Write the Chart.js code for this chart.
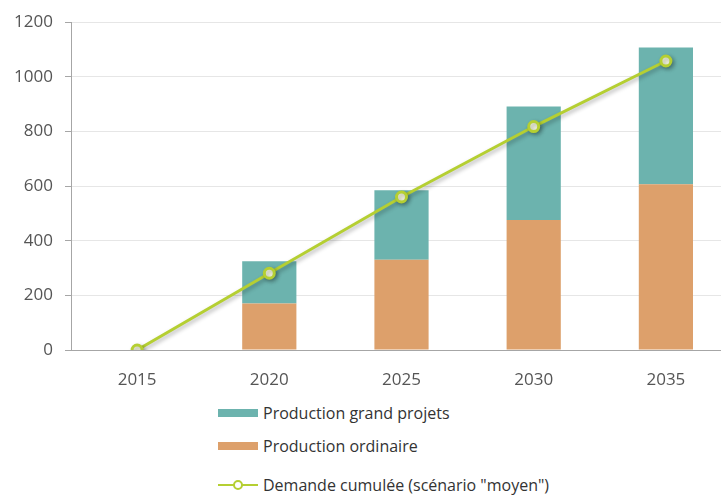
<!DOCTYPE html>
<html>
<head>
<meta charset="utf-8">
<script src="https://cdn.jsdelivr.net/npm/chart.js@4"></script>
<style>
  html, body { margin: 0; padding: 0; background: #fff; overflow: hidden; }
  #wrap { position: relative; width: 721px; height: 497px; overflow: hidden; font-family: "Open Sans", sans-serif; }
  #chart-box { position: absolute; left: 0; top: 0; width: 740px; height: 400px; }
  .legend-row { position: absolute; left: 218px; height: 20px; display: flex; align-items: center; font-size: 16px; color: #333; }
  .swatch { width: 40px; height: 8px; margin-right: 5px; }
  .line-swatch { position: relative; width: 40px; height: 20px; margin-right: 5px; }
  .line-swatch .ln { position: absolute; left: 0; right: 0; top: 9px; height: 2px; background: #b5cf32; }
  .line-swatch .dot { position: absolute; left: 15px; top: 5px; width: 6px; height: 6px; border: 2px solid #b5cf32; border-radius: 50%; background: #fff; }
</style>
</head>
<body>
<div id="wrap">
  <div id="chart-box"><canvas id="chart"></canvas></div>
  <div class="legend-row" style="top:403px"><div class="swatch" style="background:#6cb3ae"></div>Production grand projets</div>
  <div class="legend-row" style="top:436px"><div class="swatch" style="background:#dda06b"></div>Production ordinaire</div>
  <div class="legend-row" style="top:475px"><div class="line-swatch"><div class="ln"></div><div class="dot"></div></div>Demande cumulée (scénario "moyen")</div>
</div>
<script>
// Data
const years = ['2015', '2020', '2025', '2030', '2035'];
const productionOrdinaire = [0, 170, 330, 476, 607];
const productionGrandProjets = [0, 155, 255, 415, 500];
const demandeCumulee = [0, 281, 560, 818, 1058];
const yTicks = [0, 200, 400, 600, 800, 1000, 1200];

// Soft shadow under the demand line
const lineShadow = {
    id: 'lineShadow',
    beforeDatasetDraw(chart, args) {
        if (args.meta.type !== 'line') return;
        const ctx = chart.ctx;
        ctx.save();
        ctx.shadowColor = 'rgba(0, 0, 0, 0.3)';
        ctx.shadowBlur = 4;
        ctx.shadowOffsetX = 2;
        ctx.shadowOffsetY = 2;
    },
    afterDatasetDraw(chart, args) {
        if (args.meta.type !== 'line') return;
        chart.ctx.restore();
    }
};

const ctx = document.getElementById('chart').getContext('2d');
new Chart(ctx, {
    data: {
        labels: years,
        datasets: [
            {
                type: 'line',
                label: 'Demande cumulée (scénario "moyen")',
                data: demandeCumulee,
                stack: 'demande',
                borderColor: '#b5cf32',
                borderWidth: 3,
                pointRadius: 5,
                pointBorderWidth: 3,
                pointBackgroundColor: '#f8fbe4',
                pointBorderColor: '#b5cf32',
                tension: 0,
                order: 1
            },
            {
                type: 'bar',
                label: 'Production ordinaire',
                data: productionOrdinaire,
                stack: 'prod',
                backgroundColor: '#dda06b',
                order: 2
            },
            {
                type: 'bar',
                label: 'Production grand projets',
                data: productionGrandProjets,
                stack: 'prod',
                backgroundColor: '#6cb3ae',
                order: 2
            }
        ]
    },
    options: {
        responsive: true,
        maintainAspectRatio: false,
        animation: false,
        categoryPercentage: 1,
        barPercentage: 0.41,
        layout: { padding: { left: 0, right: 7, top: 20, bottom: 0 } },
        plugins: {
            legend: { display: false },
            tooltip: { enabled: false }
        },
        scales: {
            x: {
                stacked: true,
                grid: { display: false },
                border: { color: '#a6a6a6', width: 1 },
                ticks: {
                    color: '#555',
                    padding: 12,
                    font: { family: 'Open Sans', size: 17 }
                },
                afterFit(scale) { scale.height = 50; }
            },
            y: {
                stacked: true,
                min: 0,
                max: 1200,
                afterBuildTicks(scale) { scale.ticks = yTicks.map(v => ({ value: v })); },
                grid: { color: '#e6e6e6', tickLength: 6, tickColor: '#a6a6a6' },
                border: { color: '#a6a6a6', width: 1 },
                ticks: {
                    color: '#555',
                    padding: 12,
                    font: { family: 'Open Sans', size: 17 },
                    callback: v => String(v)
                },
                afterFit(scale) { scale.width = 71; }
            }
        }
    },
    plugins: [lineShadow]
});
</script>
</body>
</html>
